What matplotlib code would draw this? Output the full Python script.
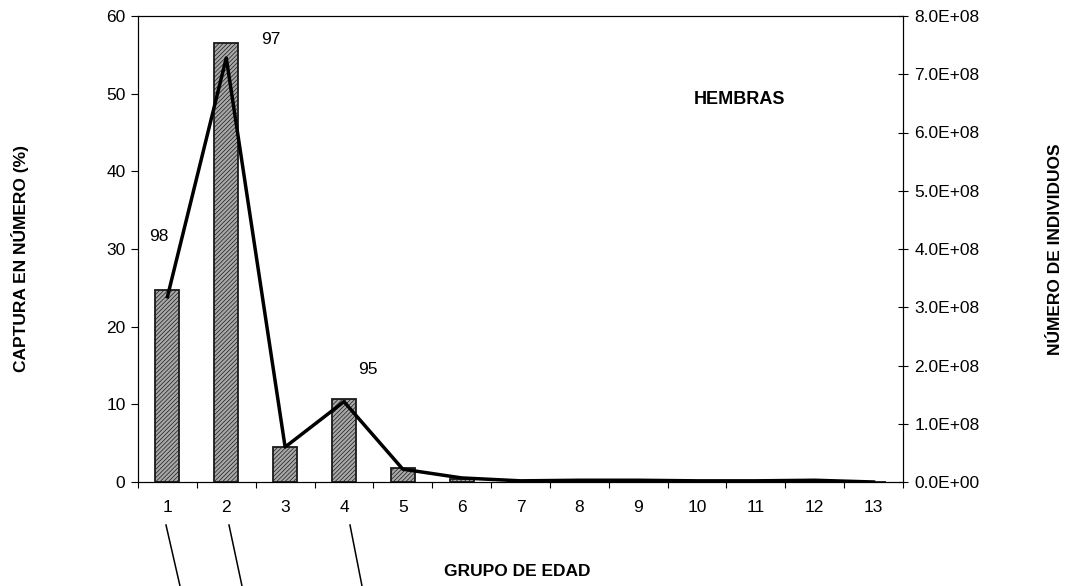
import matplotlib
matplotlib.use("Agg")
import matplotlib.pyplot as plt
import numpy as np
from matplotlib.lines import Line2D

plt.rcParams['font.family'] = ['Liberation Sans', 'DejaVu Sans']
plt.rcParams['hatch.linewidth'] = 0.5
plt.rcParams['hatch.color'] = '#303030'

grupos = [1, 2, 3, 4, 5, 6, 7, 8, 9, 10, 11, 12, 13]
captura_pct = [24.7, 56.5, 4.5, 10.7, 1.8, 0.4, 0.1, 0.2, 0.2, 0.1, 0.1, 0.15, 0.05]
individuos = [3.18e8, 7.28e8, 0.6e8, 1.38e8, 0.22e8, 0.07e8, 0.02e8, 0.03e8, 0.03e8,
              0.02e8, 0.02e8, 0.03e8, 0.0]
etiquetas = [(0.85, 31.6, "98"), (2.75, 57.0, "97"), (4.4, 14.5, "95")]
left_ticks = [0, 10, 20, 30, 40, 50, 60]
right_ticks = [0, 1e8, 2e8, 3e8, 4e8, 5e8, 6e8, 7e8, 8e8]

W, H = 1076, 586
fig = plt.figure(figsize=(W/100, H/100), dpi=100)
ax = fig.add_axes([138/W, 1-482/H, (903-138)/W, (482-16)/H])
x = np.arange(len(grupos)) + 1

ax.bar(x, captura_pct, width=0.41, facecolor='#a8a8a8', edgecolor='#1a1a1a',
       hatch='////////', linewidth=1.3, zorder=2)
ax.set_xlim(0.5, 13.5)
ax.set_ylim(0, 60)
ax.set_yticks(left_ticks)
ax.set_xticks(np.arange(0.5, 14, 1))
ax.set_xticklabels([])
ax.set_xticks(x, minor=True)
ax.set_xticklabels([str(g) for g in grupos], minor=True)
ax.tick_params(axis='x', which='major', length=4, direction='out', width=0.8)
ax.tick_params(axis='x', which='minor', length=0, pad=13, labelsize=12.5)
ax.tick_params(axis='y', length=5, direction='out', labelsize=12.5, pad=4, width=0.8)
for s in ax.spines.values():
    s.set_linewidth(0.8)

ax2 = ax.twinx()
ax2.plot(x, individuos, color='black', linewidth=2.5, zorder=3)
ax2.set_ylim(0, 8e8)
ax2.set_yticks(right_ticks)
ax2.set_yticklabels(['{:.1E}'.format(v) for v in right_ticks])
ax2.tick_params(axis='y', length=6.5, direction='inout', labelsize=12.5, pad=5, width=0.8)

for gx, yv, t in etiquetas:
    ax.text(gx, yv, t, fontsize=12.5, ha='center', va='center')

ax.text(10.72, 49.2, "HEMBRAS", fontsize=13, fontweight='bold', ha='center', va='center')

fig.text(517/W, 1-572/H, "GRUPO DE EDAD", fontsize=12.5, fontweight='bold',
         ha='center', va='center')
fig.text(20/W, 1-258/H, "CAPTURA EN NÚMERO (%)", fontsize=12.5, fontweight='bold',
         rotation=90, ha='center', va='center')
fig.text(1056/W, 1-249/H, "NÚMERO DE INDIVIDUOS", fontsize=12.5, fontweight='bold',
         rotation=90, ha='center', va='center')

for x0, x1 in [(166, 180), (229, 242), (350, 362)]:
    fig.add_artist(Line2D([x0/W, x1/W], [1-525/H, 1-586/H],
                          color='black', linewidth=1.1, transform=fig.transFigure))

fig.savefig("out.png", dpi=100)
